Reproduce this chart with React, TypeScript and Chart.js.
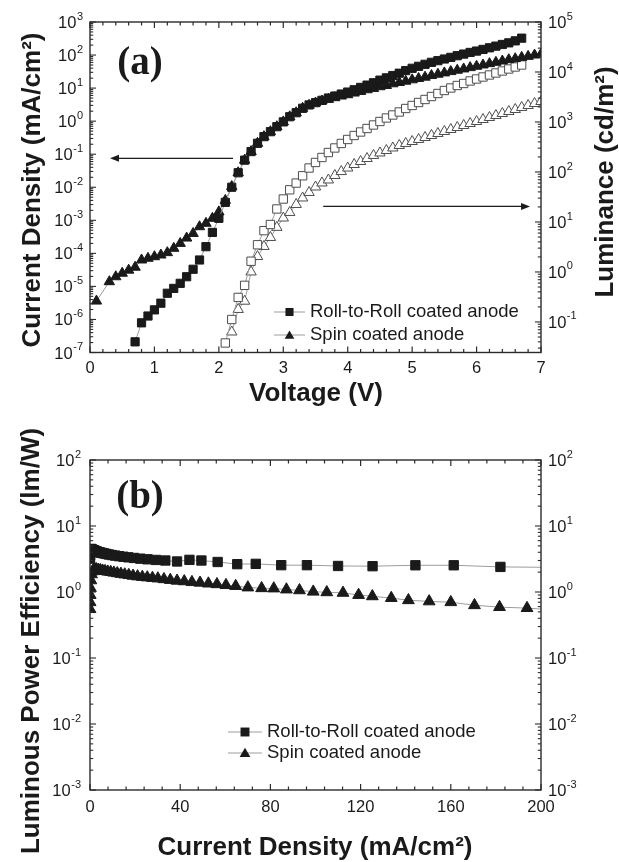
import React, { useEffect, useRef } from 'react';
import { Chart, registerables } from 'chart.js';

Chart.register(...registerables);

// ---------- Panel (a): current density and luminance vs. voltage ----------
const voltsR2RJ = [
  0.7, 0.8, 0.9, 1.0, 1.1, 1.2, 1.3, 1.4, 1.5, 1.6, 1.7, 1.8, 1.9, 2.0, 2.1,
  2.2, 2.3, 2.4, 2.5, 2.6, 2.7, 2.8, 2.9, 3.0, 3.1, 3.2, 3.3, 3.4, 3.5, 3.6,
  3.7, 3.8, 3.9, 4.0, 4.1, 4.2, 4.3, 4.4, 4.5, 4.6, 4.7, 4.8, 4.9, 5.0, 5.1,
  5.2, 5.3, 5.4, 5.5, 5.6, 5.7, 5.8, 5.9, 6.0, 6.1, 6.2, 6.3, 6.4, 6.5, 6.6, 6.7,
];
const currentR2R = [
  2.1e-7, 7.9e-7, 1.27e-6, 1.95e-6, 3.1e-6,
  6.2e-6, 8.7e-6, 1.24e-5, 1.96e-5, 3.3e-5,
  6.3e-5, 1.59e-4, 4.3e-4, 1.15e-3, 3.5e-3,
  0.01, 0.0275, 0.066, 0.12, 0.214,
  0.34, 0.48, 0.68, 0.95, 1.36,
  1.8, 2.45, 3.09, 3.63, 4.27,
  5.01, 5.75, 6.61, 7.59, 8.91,
  10.5, 12.3, 14.5, 17.4, 20.4,
  24.0, 28.2, 33.9, 39.8, 45.7,
  52.5, 60.3, 67.6, 75.9, 85.1,
  95.5, 107, 120, 132, 148,
  166, 186, 209, 234, 269,
  324,
];

const voltsSpinJ = [
  0.1, 0.3, 0.4, 0.5, 0.6, 0.7, 0.8, 0.9, 1.0, 1.1, 1.2, 1.3, 1.4, 1.5, 1.6,
  1.7, 1.8, 1.9, 2.0, 2.1, 2.2, 2.3, 2.4, 2.5, 2.6, 2.7, 2.8, 2.9, 3.0, 3.1,
  3.2, 3.3, 3.4, 3.5, 3.6, 3.7, 3.8, 3.9, 4.0, 4.1, 4.2, 4.3, 4.4, 4.5, 4.6,
  4.7, 4.8, 4.9, 5.0, 5.1, 5.2, 5.3, 5.4, 5.5, 5.6, 5.7, 5.8, 5.9, 6.0, 6.1,
  6.2, 6.3, 6.4, 6.5, 6.6, 6.7, 6.8, 6.9, 7.0,
];
const currentSpin = [
  3.6e-6,
  1.39e-5, 1.96e-5, 2.5e-5, 3.1e-5, 3.8e-5,
  6.3e-5, 7.1e-5, 7.9e-5, 8.9e-5, 1.05e-4,
  1.42e-4, 2.0e-4, 2.9e-4, 4.0e-4, 6.4e-4,
  8.1e-4, 1.15e-3, 1.8e-3, 4.0e-3, 0.0105,
  0.0275, 0.066, 0.12, 0.214, 0.34,
  0.48, 0.68, 0.95, 1.36, 1.8,
  2.45, 3.02, 3.55, 4.07, 4.57,
  5.13, 5.75, 6.31, 7.08, 7.94,
  8.91, 9.77, 11.0, 12.0, 13.5,
  14.8, 16.2, 17.8, 19.5, 21.4,
  24.0, 26.3, 28.8, 31.6, 34.7,
  38.0, 41.7, 45.7, 50.1, 55.0,
  60.3, 66.1, 72.4, 77.6, 85.1,
  91.2, 100, 107,
];

const voltsR2RL = [
  2.1, 2.2, 2.3, 2.4, 2.5, 2.6, 2.7, 2.8, 2.9, 3.0, 3.1, 3.2, 3.3, 3.4, 3.5,
  3.6, 3.7, 3.8, 3.9, 4.0, 4.1, 4.2, 4.3, 4.4, 4.5, 4.6, 4.7, 4.8, 4.9, 5.0,
  5.1, 5.2, 5.3, 5.4, 5.5, 5.6, 5.7, 5.8, 5.9, 6.0, 6.1, 6.2, 6.3, 6.4, 6.5,
  6.6, 6.7,
];
const luminanceR2R = [
  0.038, 0.112, 0.31, 0.54, 1.64,
  3.5, 6.7, 8.9, 18.2, 28.8,
  44, 60, 84, 120,
  155, 195, 245, 302, 372,
  447, 537, 631, 741, 871,
  1023, 1202, 1380, 1585, 1862,
  2138, 2455, 2818, 3236, 3715,
  4266, 4786, 5370, 5888, 6607,
  7244, 7943, 8710, 9550, 10470,
  11480, 12590, 13800,
];

const voltsSpinL = [
  2.2, 2.3, 2.4, 2.5, 2.6, 2.7, 2.8, 2.9, 3.0, 3.1, 3.2, 3.3, 3.4, 3.5, 3.6,
  3.7, 3.8, 3.9, 4.0, 4.1, 4.2, 4.3, 4.4, 4.5, 4.6, 4.7, 4.8, 4.9, 5.0, 5.1,
  5.2, 5.3, 5.4, 5.5, 5.6, 5.7, 5.8, 5.9, 6.0, 6.1, 6.2, 6.3, 6.4, 6.5, 6.6,
  6.7, 6.8, 6.9, 7.0,
];
const luminanceSpin = [
  0.063, 0.178, 0.26, 1.0, 2.04,
  3.24, 4.9, 7.8, 12.0, 15.5,
  22.4, 30.2, 38.9, 50.1, 60.3,
  69.2, 85.1, 102, 120, 141,
  162, 186, 214, 240, 269,
  302, 339, 372, 407, 447,
  490, 537, 589, 646, 708,
  776, 851, 933, 1023, 1122,
  1230, 1349, 1479, 1622, 1778,
  1950, 2138, 2344, 2570,
];

// ---------- Panel (b): luminous power efficiency vs. current density ----------
const currentR2RB = [
  0.02, 0.05, 0.1, 0.18, 0.3, 0.45, 0.65, 0.9, 1.2, 1.5,
  1.9, 2.3, 2.8, 3.3, 3.9, 4.6, 5.4, 6.3, 7.3, 8.4,
  9.7, 11.2, 12.9, 14.8, 17.0, 19.5, 22.3, 25.5, 29.2, 33.4,
  38.6, 44.1, 49.4, 56.6, 65.3, 73.5, 84.8, 96.2, 110, 125.3,
  144.3, 161.3, 182, 206,
];
const efficiencyR2R = [
  3.2, 3.6, 4.0, 4.3, 4.45, 4.5, 4.45, 4.4, 4.35, 4.3,
  4.25, 4.2, 4.14, 4.08, 4.02, 3.96, 3.9, 3.84, 3.77, 3.7,
  3.63, 3.56, 3.49, 3.42, 3.35, 3.28, 3.2, 3.13, 3.06, 3.0,
  2.9, 3.07, 3.0, 2.85, 2.64, 2.67, 2.55, 2.55, 2.48, 2.46,
  2.54, 2.54, 2.4, 2.36,
];
const currentSpinB = [
  0.02, 0.05, 0.1, 0.2, 0.4, 0.7, 1.1, 1.6, 2.2, 2.9,
  3.7, 4.6, 5.6, 6.7, 7.9, 9.2, 10.6, 12.1, 13.7, 15.4,
  17.2, 19.1, 21.1, 23.2, 25.4, 27.7, 30.1, 32.8, 35.6, 38.6,
  41.8, 45.2, 48.8, 52.5, 56.3, 60.3, 64.6, 70, 76.1, 81.5,
  87.1, 92.9, 99, 105, 112.2, 119.1, 125.2, 133.6, 141.2, 150.4,
  160, 170.5, 181.6, 193.8, 207,
];
const efficiencySpin = [
  0.55, 0.7, 0.9, 1.15, 1.5, 1.85, 2.05, 2.15, 2.2, 2.2,
  2.17, 2.14, 2.1, 2.07, 2.03, 2.0, 1.96, 1.92, 1.88, 1.84,
  1.8, 1.76, 1.72, 1.69, 1.66, 1.63, 1.6, 1.56, 1.52, 1.48,
  1.45, 1.41, 1.38, 1.34, 1.31, 1.27, 1.23, 1.17, 1.14, 1.13,
  1.09, 1.06, 1.01, 0.99, 0.97, 0.9, 0.86, 0.81, 0.75, 0.72,
  0.7, 0.63, 0.59, 0.57, 0.53,
];

// ---------- axis ticks and labels ----------
const voltTickLabels = ['0', '1', '2', '3', '4', '5', '6', '7'];
const currentTickLabels = ['0', '40', '80', '120', '160', '200'];
const currentExponents = [-7, -6, -5, -4, -3, -2, -1, 0, 1, 2, 3];
const luminanceExponents = [-1, 0, 1, 2, 3, 4, 5];
const efficiencyExponents = [-3, -2, -1, 0, 1, 2];
const legendLabels = ['Roll-to-Roll coated anode', 'Spin coated anode'];

// guide arrows: [x, y] in data units of panel (a)
const arrowToCurrentAxis = { from: [2.22, 0.075], to: [0.31, 0.075] };
const arrowToLuminanceAxis = { from: [3.62, 20.5], to: [6.83, 20.5] };

const SANS = '"Liberation Sans", Arial, Helvetica, sans-serif';
const SERIF = '"Liberation Serif", "Times New Roman", Times, serif';
const INK = '#1a1a1a';
const AXIS = '#2b2b2b';
const LINE_GREY = '#9c9c9c';
const OPEN_EDGE = '#4d4d4d';

type Ctx = CanvasRenderingContext2D;

const pairs = (xs: number[], ys: number[]) => xs.map((x, i) => ({ x, y: ys[i] }));

function seg(ctx: Ctx, x1: number, y1: number, x2: number, y2: number) {
  ctx.beginPath();
  ctx.moveTo(x1, y1);
  ctx.lineTo(x2, y2);
  ctx.stroke();
}

function squareKey(ctx: Ctx, x: number, y: number, half: number) {
  ctx.fillStyle = INK;
  ctx.fillRect(x - half, y - half, half * 2, half * 2);
}

function triangleKey(ctx: Ctx, x: number, y: number, r: number) {
  ctx.fillStyle = INK;
  ctx.beginPath();
  ctx.moveTo(x, y - r);
  ctx.lineTo(x + r * 0.866, y + r * 0.5);
  ctx.lineTo(x - r * 0.866, y + r * 0.5);
  ctx.closePath();
  ctx.fill();
}

function drawFrame(ctx: Ctx, a: any) {
  ctx.strokeStyle = AXIS;
  ctx.lineWidth = 1.4;
  ctx.strokeRect(a.left, a.top, a.right - a.left, a.bottom - a.top);
}

function drawLinearTicks(ctx: Ctx, a: any, scale: any, step: number, minorStep: number) {
  ctx.strokeStyle = AXIS;
  ctx.lineWidth = 1.2;
  const n = Math.round((scale.max - scale.min) / minorStep);
  for (let i = 0; i <= n; i++) {
    const v = scale.min + i * minorStep;
    const p = scale.getPixelForValue(v);
    const major = Math.abs(v / step - Math.round(v / step)) < 1e-6;
    const len = major ? 6 : 3.5;
    seg(ctx, p, a.bottom, p, a.bottom - len);
    seg(ctx, p, a.top, p, a.top + len);
  }
}

function drawLogTicks(ctx: Ctx, a: any, scale: any, side: 'left' | 'right') {
  ctx.strokeStyle = AXIS;
  ctx.lineWidth = 1.1;
  const x0 = side === 'left' ? a.left : a.right;
  const dir = side === 'left' ? 1 : -1;
  const lo = Math.floor(Math.log10(scale.min));
  const hi = Math.ceil(Math.log10(scale.max));
  for (let e = lo; e <= hi; e++) {
    for (let k = 1; k < 10; k++) {
      const v = k * Math.pow(10, e);
      if (v < scale.min * 0.999 || v > scale.max * 1.001) continue;
      const p = scale.getPixelForValue(v);
      seg(ctx, x0, p, x0 + dir * (k === 1 ? 6 : 3.2), p);
    }
  }
}

function drawPowerLabels(ctx: Ctx, scale: any, exps: number[], side: 'left' | 'right', edge: number) {
  const baseFont = `16.5px ${SANS}`;
  const expFont = `11px ${SANS}`;
  ctx.fillStyle = INK;
  ctx.textBaseline = 'middle';
  ctx.textAlign = 'left';
  for (const e of exps) {
    const y = scale.getPixelForValue(Math.pow(10, e));
    const es = String(e);
    ctx.font = baseFont;
    const bw = ctx.measureText('10').width;
    ctx.font = expFont;
    const ew = ctx.measureText(es).width;
    const bx = side === 'left' ? edge - ew - bw - 0.5 : edge;
    ctx.font = baseFont;
    ctx.fillText('10', bx, y + 1.5);
    ctx.font = expFont;
    ctx.fillText(es, bx + bw + 0.5, y - 5.5);
  }
}

function drawXLabels(ctx: Ctx, scale: any, labels: string[], y: number) {
  ctx.fillStyle = INK;
  ctx.font = `16.5px ${SANS}`;
  ctx.textAlign = 'center';
  ctx.textBaseline = 'middle';
  for (const t of labels) ctx.fillText(t, scale.getPixelForValue(Number(t)), y);
}

function rotatedTitle(ctx: Ctx, text: string, x: number, y: number) {
  ctx.save();
  ctx.translate(x, y);
  ctx.rotate(-Math.PI / 2);
  ctx.font = `bold 26px ${SANS}`;
  ctx.fillStyle = INK;
  ctx.textAlign = 'center';
  ctx.textBaseline = 'middle';
  ctx.fillText(text, 0, 0);
  ctx.restore();
}

function flatTitle(ctx: Ctx, text: string, x: number, y: number) {
  ctx.font = `bold 26px ${SANS}`;
  ctx.fillStyle = INK;
  ctx.textAlign = 'center';
  ctx.textBaseline = 'middle';
  ctx.fillText(text, x, y);
}

function panelTag(ctx: Ctx, text: string, x: number, y: number) {
  ctx.font = `bold 39px ${SERIF}`;
  ctx.fillStyle = INK;
  ctx.textAlign = 'center';
  ctx.textBaseline = 'middle';
  ctx.fillText(text, x, y);
}

function legend(ctx: Ctx, x0: number, x1: number, rows: number[], big: number) {
  const mid = (x0 + x1) / 2;
  ctx.strokeStyle = LINE_GREY;
  ctx.lineWidth = 1;
  rows.forEach((y) => seg(ctx, x0, y, x1, y));
  squareKey(ctx, mid, rows[0], big * 0.72);
  triangleKey(ctx, mid, rows[1] + 1, big);
  ctx.font = `18.5px ${SANS}`;
  ctx.fillStyle = INK;
  ctx.textAlign = 'left';
  ctx.textBaseline = 'middle';
  ctx.fillText(legendLabels[0], x1 + 5, rows[0]);
  ctx.fillText(legendLabels[1], x1 + 5, rows[1]);
}

function arrow(ctx: Ctx, x1: number, y1: number, x2: number, y2: number) {
  ctx.strokeStyle = INK;
  ctx.fillStyle = INK;
  ctx.lineWidth = 1.3;
  const dir = Math.sign(x2 - x1);
  seg(ctx, x1, y1, x2 - dir * 4, y2);
  ctx.beginPath();
  ctx.moveTo(x2, y2);
  ctx.lineTo(x2 - dir * 9, y2 - 3.5);
  ctx.lineTo(x2 - dir * 9, y2 + 3.5);
  ctx.closePath();
  ctx.fill();
}

function decoratePanelA(chart: any) {
  const { ctx, chartArea: a, scales } = chart;
  const { x, y, y2 } = scales;
  ctx.save();
  drawLinearTicks(ctx, a, x, 1, 0.2);
  drawLogTicks(ctx, a, y, 'left');
  drawLogTicks(ctx, a, y2, 'right');
  drawFrame(ctx, a);
  drawXLabels(ctx, x, voltTickLabels, a.bottom + 16);
  drawPowerLabels(ctx, y, currentExponents, 'left', a.left - 7);
  drawPowerLabels(ctx, y2, luminanceExponents, 'right', a.right + 7);
  rotatedTitle(ctx, 'Current Density (mA/cm²)', 33, 190);
  rotatedTitle(ctx, 'Luminance (cd/m²)', 606, 182);
  flatTitle(ctx, 'Voltage (V)', 316, 394);
  panelTag(ctx, '(a)', 140, 64);
  arrow(
    ctx,
    x.getPixelForValue(arrowToCurrentAxis.from[0]), y.getPixelForValue(arrowToCurrentAxis.from[1]),
    x.getPixelForValue(arrowToCurrentAxis.to[0]), y.getPixelForValue(arrowToCurrentAxis.to[1]),
  );
  arrow(
    ctx,
    x.getPixelForValue(arrowToLuminanceAxis.from[0]), y2.getPixelForValue(arrowToLuminanceAxis.from[1]),
    x.getPixelForValue(arrowToLuminanceAxis.to[0]), y2.getPixelForValue(arrowToLuminanceAxis.to[1]),
  );
  legend(ctx, 274, 305, [312, 335], 5.6);
  ctx.restore();
}

function decoratePanelB(chart: any) {
  const { ctx, chartArea: a, scales } = chart;
  const { x, y } = scales;
  ctx.save();
  drawLinearTicks(ctx, a, x, 40, 8);
  drawLogTicks(ctx, a, y, 'left');
  drawLogTicks(ctx, a, y, 'right');
  drawFrame(ctx, a);
  drawXLabels(ctx, x, currentTickLabels, a.bottom + 17);
  drawPowerLabels(ctx, y, efficiencyExponents, 'left', a.left - 9);
  drawPowerLabels(ctx, y, efficiencyExponents, 'right', a.right + 7);
  rotatedTitle(ctx, 'Luminous Power Efficiency (lm/W)', 32, 221);
  flatTitle(ctx, 'Current Density (mA/cm²)', 315, 428);
  panelTag(ctx, '(b)', 140, 78);
  legend(ctx, 228, 262, [312, 333], 6.2);
  ctx.restore();
}

const hidden = {
  grid: { display: false },
  border: { display: false },
  ticks: { display: false },
  title: { display: false },
};

function lineSet(label: string, data: any[], axis: string, style: string, radius: number, filled: boolean) {
  return {
    label,
    data,
    yAxisID: axis,
    showLine: true,
    borderColor: LINE_GREY,
    borderWidth: 1,
    pointStyle: style,
    pointRadius: radius,
    pointBackgroundColor: filled ? INK : '#ffffff',
    pointBorderColor: filled ? INK : OPEN_EDGE,
    pointBorderWidth: 1,
  };
}

function configA(): any {
  return {
    type: 'scatter',
    data: {
      datasets: [
        lineSet(legendLabels[0], pairs(voltsR2RJ, currentR2R), 'y', 'rect', 5.8, true),
        lineSet(legendLabels[1], pairs(voltsSpinJ, currentSpin), 'y', 'triangle', 6, true),
        lineSet(legendLabels[0], pairs(voltsR2RL, luminanceR2R), 'y2', 'rect', 5.9, false),
        lineSet(legendLabels[1], pairs(voltsSpinL, luminanceSpin), 'y2', 'triangle', 6, false),
      ],
    },
    options: {
      responsive: false,
      animation: false,
      events: [],
      layout: { padding: { top: 22, left: 0, right: 0, bottom: 0 } },
      plugins: { legend: { display: false }, tooltip: { enabled: false } },
      scales: {
        x: { type: 'linear', min: 0, max: 7, ...hidden, afterFit: (s: any) => { s.height = 420 - 352.5; } },
        y: { type: 'logarithmic', position: 'left', min: 1e-7, max: 1e3, ...hidden, afterFit: (s: any) => { s.width = 90; } },
        y2: { type: 'logarithmic', position: 'right', min: 0.0245, max: 1e5, ...hidden, afterFit: (s: any) => { s.width = 78; } },
      },
    },
    plugins: [{ id: 'panelA', afterDatasetsDraw: (c: any) => decoratePanelA(c) }],
  };
}

function configB(): any {
  return {
    type: 'scatter',
    data: {
      datasets: [
        lineSet(legendLabels[0], pairs(currentR2RB, efficiencyR2R), 'y', 'rect', 6.6, true),
        lineSet(legendLabels[1], pairs(currentSpinB, efficiencySpin), 'y', 'triangle', 6.8, true),
      ],
    },
    options: {
      responsive: false,
      animation: false,
      events: [],
      layout: { padding: { top: 40, left: 0, right: 78, bottom: 0 } },
      plugins: { legend: { display: false }, tooltip: { enabled: false } },
      scales: {
        x: { type: 'linear', min: 0, max: 200, ...hidden, afterFit: (s: any) => { s.height = 442 - 370; } },
        y: { type: 'logarithmic', position: 'left', min: 1e-3, max: 1e2, ...hidden, afterFit: (s: any) => { s.width = 90; } },
      },
    },
    plugins: [{ id: 'panelB', afterDatasetsDraw: (c: any) => decoratePanelB(c) }],
  };
}

export default function App() {
  const topRef = useRef<HTMLCanvasElement>(null);
  const bottomRef = useRef<HTMLCanvasElement>(null);

  useEffect(() => {
    const a = new Chart(topRef.current as HTMLCanvasElement, configA());
    const b = new Chart(bottomRef.current as HTMLCanvasElement, configB());
    return () => {
      a.destroy();
      b.destroy();
    };
  }, []);

  return (
    <div style={{ position: 'absolute', left: 0, top: 0, width: 619, height: 862, background: '#ffffff' }}>
      <canvas ref={topRef} width={619} height={420} style={{ position: 'absolute', left: 0, top: 0 }} />
      <canvas ref={bottomRef} width={619} height={442} style={{ position: 'absolute', left: 0, top: 420 }} />
    </div>
  );
}
